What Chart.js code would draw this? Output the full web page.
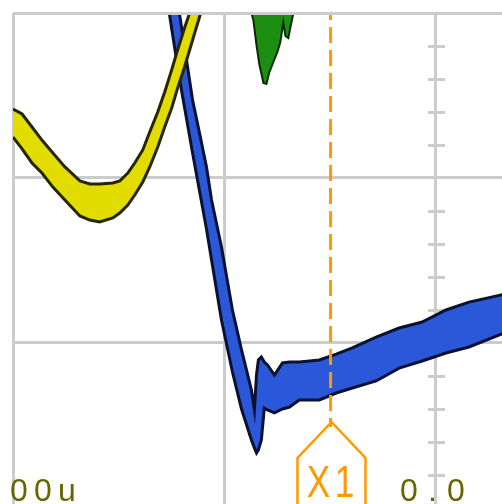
<!DOCTYPE html>
<html>
<head>
<meta charset="utf-8">
<script src="https://cdn.jsdelivr.net/npm/chart.js@4.4.1/dist/chart.umd.min.js"></script>
<style>
  html, body { margin: 0; padding: 0; background: #fff; }
  #wrap { width: 502px; height: 504px; overflow: hidden; }
</style>
</head>
<body>
<div id="wrap"><canvas id="scope" width="502" height="504"></canvas></div>
<script>
// time in us (100 us/div), amplitude in divisions
const timeTicks = [-200, -100, 0];
const voltTicks = [0, 1, 2];

// yellow trace, persistence envelope
const yellowT = [-200.0,-195.7,-191.0,-186.3,-181.1,-175.4,-168.3,-163.6,-158.9,-152.7,-149.4,-145.6,-142.3,-138.5,-135.2,-131.4,-128.1,-124.8,-122.0,-118.7,-116.3,-113.9,-111.6,-109.2];
const yellowMax = [1.418,1.388,1.309,1.230,1.152,1.067,0.982,0.964,0.964,0.970,0.982,1.030,1.091,1.170,1.279,1.400,1.521,1.655,1.776,1.909,2.000,2.097,2.194,2.291];
const yellowMin = [1.248,1.176,1.091,1.030,0.945,0.867,0.770,0.745,0.733,0.758,0.788,0.836,0.897,0.976,1.067,1.188,1.309,1.424,1.545,1.673,1.776,1.879,1.976,2.079];

// blue trace
const blueT = [-130.5,-125.8,-121.0,-114.9,-111.6,-108.3,-105.9,-101.2,-96.0,-91.7,-87.0,-85.6,-84.6,-83.7,-82.3,-80.9,-79.4,-76.1,-72.3,-69.0,-64.3,-54.8,-46.8,-39.2,-27.9,-17.0,-6.1,5.2,16.1,32.0];
const blueMax = [2.806,2.382,1.988,1.473,1.273,1.067,0.867,0.582,0.200,-0.042,-0.285,-0.406,-0.194,-0.103,-0.085,-0.115,-0.133,-0.194,-0.121,-0.115,-0.115,-0.103,-0.067,-0.030,0.036,0.091,0.127,0.200,0.248,0.293];
const blueMin = [2.382,1.988,1.594,1.152,0.921,0.691,0.503,0.139,-0.176,-0.400,-0.588,-0.636,-0.667,-0.648,-0.588,-0.394,-0.406,-0.424,-0.400,-0.388,-0.345,-0.345,-0.303,-0.273,-0.230,-0.152,-0.109,-0.061,-0.024,0.057];

// green spike hanging from the top edge
const greenT = [-87.0,-86.1,-84.6,-83.2,-81.3,-79.9,-78.5,-76.6,-74.7,-73.3,-72.3,-71.9,-70.9,-69.5,-68.6,-67.6,-67.1];
const greenMin = [2.000,1.958,1.806,1.685,1.576,1.570,1.642,1.703,1.764,1.824,1.909,1.945,1.861,1.848,1.909,1.970,2.000];

// cursor X1
const cursorT = -49.5;
const cursorSpan = [2.055, -0.509];
const cursorLabel = 'X1';
const timeLabels = ['00u', '0.0'];

const ORANGE = '#ff9900';
const OLIVE = '#666600';
const GRID = '#cccccc';

const pts = (xs, ys) => xs.map((x, i) => ({x: x, y: ys[i]}));

function glyphs(ctx, text, cx, base, font, advance, sx) {
  ctx.font = font;
  ctx.textAlign = 'center';
  ctx.textBaseline = 'alphabetic';
  const start = cx - advance * (text.length - 1) / 2;
  for (let i = 0; i < text.length; i++) {
    ctx.save();
    ctx.translate(start + i * advance, base);
    ctx.scale(sx, 1);
    ctx.fillText(text[i], 0, 0);
    ctx.restore();
  }
}

const scopeDeco = {
  id: 'scopeDeco',
  beforeDatasetsDraw(chart) {
    // minor ticks on the centre vertical line
    const {ctx, scales: {x, y}} = chart;
    const cx = Math.round(x.getPixelForValue(0));
    ctx.save();
    ctx.fillStyle = GRID;
    for (let k = 1; k < 15; k++) {
      if (k % 5 === 0) continue;
      const py = Math.round(y.getPixelForValue(2 - k * 0.2));
      ctx.fillRect(cx - 7, py - 1, 17, 3);
    }
    ctx.restore();
  },
  afterDraw(chart) {
    const {ctx, scales: {x, y}} = chart;
    const cx = Math.round(x.getPixelForValue(cursorT)) + 0.5;
    const top = Math.round(y.getPixelForValue(cursorSpan[1])) - 5;
    ctx.save();
    // cursor flag
    ctx.strokeStyle = ORANGE;
    ctx.lineWidth = 2.5;
    ctx.beginPath();
    ctx.moveTo(cx - 34, 520);
    ctx.lineTo(cx - 34, top + 36);
    ctx.lineTo(cx, top);
    ctx.lineTo(cx + 34, top + 36);
    ctx.lineTo(cx + 34, 520);
    ctx.stroke();
    ctx.fillStyle = ORANGE;
    glyphs(ctx, cursorLabel, cx, 497, '44px "Liberation Sans"', 26, 0.8);
    // time labels
    ctx.fillStyle = OLIVE;
    glyphs(ctx, timeLabels[0], 43, 501, '32px "Liberation Sans"', 24, 1.0);
    glyphs(ctx, timeLabels[1], 432.5, 501, '32px "Liberation Sans"', 23.5, 1.0);
    ctx.restore();
  }
};

const clipEdge = {left: 0, top: -2, right: 0, bottom: 0};

new Chart(document.getElementById('scope'), {
  type: 'line',
  data: {
    datasets: [
      {
        data: pts([cursorT, cursorT], cursorSpan),
        borderColor: ORANGE, borderWidth: 3, borderDash: [16, 7],
        pointRadius: 0, fill: false, clip: clipEdge
      },
      {
        data: pts(yellowT, yellowMax),
        borderColor: '#262600', borderWidth: 3, pointRadius: 0, fill: false, clip: clipEdge
      },
      {
        data: pts(yellowT, yellowMin),
        borderColor: '#262600', borderWidth: 3, pointRadius: 0,
        backgroundColor: '#e2dc00', fill: '-1', clip: clipEdge
      },
      {
        data: pts(blueT, blueMax),
        borderColor: '#0b1230', borderWidth: 3, pointRadius: 0, fill: false, clip: clipEdge
      },
      {
        data: pts(blueT, blueMin),
        borderColor: '#0b1230', borderWidth: 3, pointRadius: 0,
        backgroundColor: '#2a58d8', fill: '-1', clip: clipEdge
      },
      {
        data: pts(greenT, greenMin),
        borderColor: '#0a2a06', borderWidth: 2, pointRadius: 0,
        backgroundColor: '#1c8f12', fill: {value: 2.3}, clip: clipEdge
      }
    ]
  },
  options: {
    responsive: false,
    animation: false,
    devicePixelRatio: 1,
    layout: {padding: {left: 13, top: 13, right: 0, bottom: 0}},
    plugins: {legend: {display: false}, tooltip: {enabled: false}},
    scales: {
      x: {
        type: 'linear', min: -200, max: 31.75,
        afterBuildTicks: s => { s.ticks = timeTicks.map(v => ({value: v})); },
        afterFit: s => { s.height = 0; },
        ticks: {display: false},
        grid: {color: GRID, lineWidth: 3, drawTicks: false},
        border: {display: false}
      },
      y: {
        type: 'linear', min: -0.9758, max: 2,
        afterBuildTicks: s => { s.ticks = voltTicks.map(v => ({value: v})); },
        afterFit: s => { s.width = 0; },
        ticks: {display: false},
        grid: {color: GRID, lineWidth: 3, drawTicks: false},
        border: {display: false}
      }
    }
  },
  plugins: [scopeDeco]
});
</script>
</body>
</html>
